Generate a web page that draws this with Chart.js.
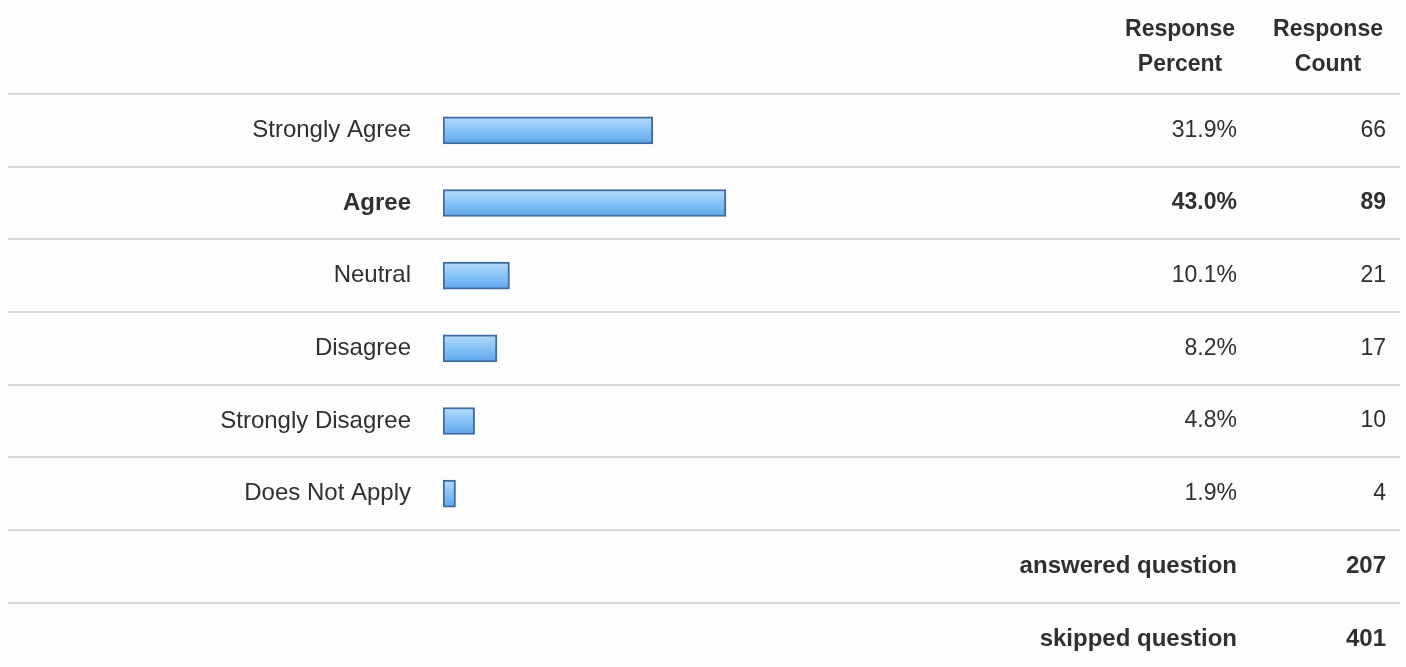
<!DOCTYPE html>
<html>
<head>
<meta charset="utf-8">
<script src="https://cdn.jsdelivr.net/npm/chart.js@4"></script>
<style>
  html, body { margin: 0; padding: 0; background: #fdfdfd; }
  .wrap { width: 1406px; height: 667px; position: relative; }
</style>
</head>
<body>
<div class="wrap"><canvas class="chart" width="1406" height="667"></canvas></div>
<script>
(function() {

    let categories = ['Strongly Agree', 'Agree', 'Neutral', 'Disagree', 'Strongly Disagree', 'Does Not Apply'];

    let percents = [31.9, 43.0, 10.1, 8.2, 4.8, 1.9];

    let counts = [66, 89, 21, 17, 10, 4];

    let headers = [['Response', 'Percent'], ['Response', 'Count']];

    let footerLabels = ['answered question', 'skipped question'];

    let footerValues = [207, 401];

    let textColor = '#303030';
    let fontFamily = '"Liberation Sans", Arial, sans-serif';
    let fontSize = 23;
    let labelSize = 24;

    // the top answer is printed in bold
    let topIndex = percents.indexOf(Math.max(...percents));

    let font = (size, bold) => `${bold ? 'bold ' : ''}${size}px ${fontFamily}`;

    /**
     * Draws the row rules, the header and the value columns
     */
    let tablePlugin = {
        id: 'table',
        beforeDatasetsDraw: chart => {
            let c = chart.ctx;
            let y = chart.scales.y;
            let step = y.getPixelForValue(1) - y.getPixelForValue(0);

            c.save();
            c.strokeStyle = '#d9d9d9';
            c.lineWidth = 2;
            for (let i = 0; i <= categories.length + footerLabels.length - 1; i++) {
                let py = Math.round(y.getPixelForValue(i) - step / 2);
                c.beginPath();
                c.moveTo(8, py);
                c.lineTo(1400, py);
                c.stroke();
            }
            c.restore();
        },
        afterDraw: chart => {
            let c = chart.ctx;
            let y = chart.scales.y;
            let step = y.getPixelForValue(1) - y.getPixelForValue(0);
            let pctX = 1237, cntX = 1386;

            c.save();
            c.fillStyle = textColor;
            c.textBaseline = 'middle';

            // header
            c.font = font(fontSize, true);
            c.textAlign = 'center';
            headers.forEach((lines, i) => {
                let cx = i === 0 ? 1180 : 1328;
                c.fillText(lines[0], cx, 30);
                c.fillText(lines[1], cx, 65);
            });

            // value columns
            c.textAlign = 'right';
            percents.forEach((p, i) => {
                let py = y.getPixelForValue(i);
                c.font = font(fontSize, i === topIndex);
                c.fillText(p.toFixed(1) + '%', pctX, py);
                c.fillText(String(counts[i]), cntX, py);
            });

            // answered / skipped rows
            c.font = font(labelSize, true);
            footerLabels.forEach((label, i) => {
                let py = y.getPixelForValue(categories.length - 1) + step * (i + 1);
                c.fillText(label, pctX, py);
                c.fillText(String(footerValues[i]), cntX, py);
            });
            c.restore();
        }
    };

    let barFill = context => {
        let chart = context.chart;
        let { ctx, chartArea } = chart;
        if (!chartArea) {
            return '#7dbbf2';
        }
        let y = chart.scales.y;
        let py = y.getPixelForValue(context.dataIndex);
        let g = ctx.createLinearGradient(0, py - 13, 0, py + 13);
        g.addColorStop(0, '#b4dcfb');
        g.addColorStop(0.5, '#86c3f6');
        g.addColorStop(1, '#5fa8ec');
        return g;
    };

    let ctx = document.querySelector('.chart');

    new Chart(ctx, {
        type: 'bar',
        data: {
            labels: categories,
            datasets: [{
                data: percents,
                backgroundColor: barFill,
                borderColor: '#3f6aa0',
                borderWidth: 2,
                borderSkipped: false,
                barThickness: 27
            }]
        },
        options: {
            indexAxis: 'y',
            responsive: false,
            animation: false,
            devicePixelRatio: 1,
            layout: {
                padding: { left: 0, right: 305, top: 94, bottom: 137 }
            },
            scales: {
                x: {
                    display: false,
                    min: 0,
                    max: 100
                },
                y: {
                    afterFit: scale => { scale.width = 443; },
                    grid: { display: false, drawTicks: false },
                    border: { display: false },
                    ticks: {
                        padding: 32,
                        color: textColor,
                        font: context => ({
                            family: fontFamily,
                            size: labelSize,
                            weight: context.index === topIndex ? 'bold' : 'normal'
                        })
                    }
                }
            },
            plugins: {
                legend: { display: false },
                tooltip: { enabled: false }
            }
        },
        plugins: [tablePlugin]
    });

})();
</script>
</body>
</html>
